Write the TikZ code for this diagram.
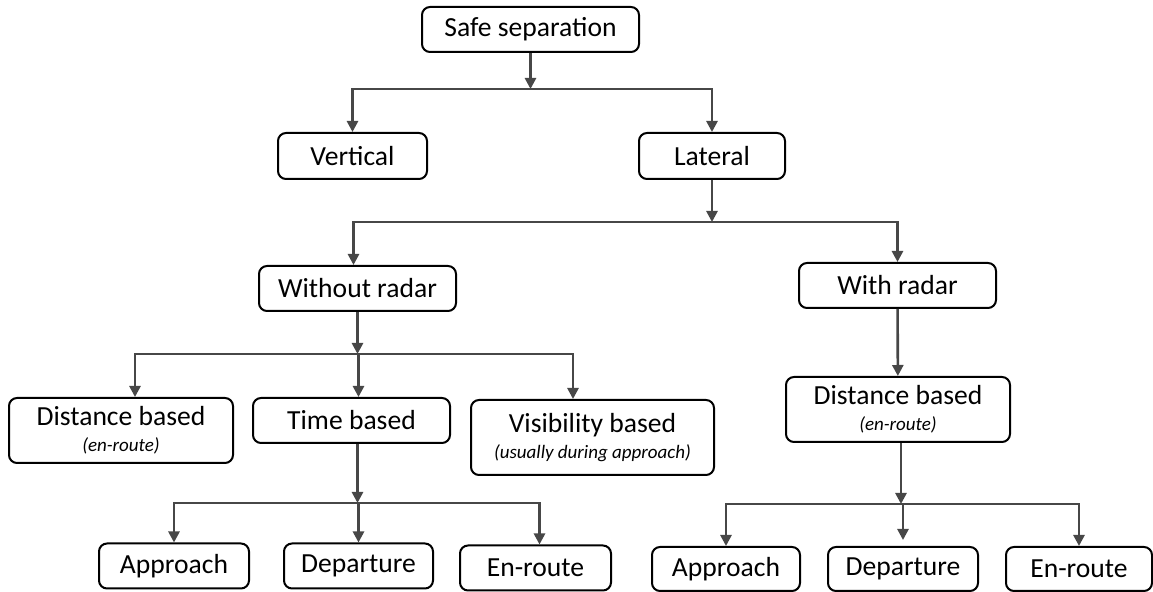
\documentclass[tikz,border=0pt]{standalone}
\usepackage{fontspec}
\setmainfont{Carlito}
\usetikzlibrary{positioning, arrows.meta}

\newcommand{\subnote}[1]{{\fontsize{9.5}{11}\selectfont\itshape #1}}

\begin{document}
\begin{tikzpicture}[
    x=0.5pt, y=-0.5pt,
    every node/.style={font=\fontsize{13.8}{13}\selectfont},
    s/.style={draw, line width=1pt, rounded corners=4pt, minimum height=22.5pt, inner sep=0pt, align=center},
    arrow/.style={-{Triangle[length=5.5pt, width=5.5pt]}, line width=1.3pt, draw=black!72}
  ]
  \useasboundingbox (0,0) rectangle (1153,592);

  % top levels
  \node[s, minimum width=108.5pt] (safe) at (530.5,29.5) {Safe separation};
  \node[s, minimum width=74.5pt, minimum height=23pt] (vert) at (352.5,156) {Vertical};
  \node[s, minimum width=73pt, minimum height=23pt] (lat) at (712,156) {Lateral};
  \node[s, minimum width=98.5pt] (wo) at (357.5,288.5) {Without radar};
  \node[s, minimum width=98.5pt] (wr) at (897.5,285.5) {With radar};

  % without radar branch
  \node[s, minimum width=112pt, minimum height=32.5pt] (db1) at (121,430.5) {Distance based\\\subnote{(en-route)}};
  \node[s, minimum width=98.5pt] (tb) at (351.5,420.5) {Time based};
  \node[s, minimum width=121.5pt, minimum height=37.5pt] (vb) at (592.5,437.5) {Visibility based\\\subnote{(usually during approach)}};
  \node[s, minimum width=75pt] (ap1) at (174,566) {Approach};
  \node[s, minimum width=74.5pt] (de1) at (358.5,566) {Departure};
  \node[s, minimum width=75.5pt] (en1) at (535.5,568) {En-route};

  % with radar branch
  \node[s, minimum width=112pt, minimum height=32.5pt] (db2) at (898,409.5) {Distance based\\\subnote{(en-route)}};
  \node[s, minimum width=74pt, minimum height=22pt] (ap2) at (726,569) {Approach};
  \node[s, minimum width=75pt, minimum height=22pt] (de2) at (903,569) {Departure};
  \node[s, minimum width=73pt, minimum height=22pt] (en2) at (1079,569) {En-route};

  % connectors
  \coordinate[below=18pt of safe.south] (j1);
  \draw[arrow] (safe.south) -- (j1);
  \draw[arrow] (j1) -| (vert.north);
  \draw[arrow] (j1) -| (lat.north);

  \coordinate[below=21pt of lat.south] (j2);
  \draw[arrow] (lat.south) -- (j2);
  \draw[arrow] (j2) -| ([xshift=-2pt]wo.north);
  \draw[arrow] (j2) -| (wr.north);

  \coordinate[below=21pt of wo.south] (j3);
  \draw[arrow] (wo.south) -- (j3);
  \draw[arrow] (j3) -| ([xshift=7pt]db1.north);
  \draw[arrow] (j3) -| ([xshift=3.5pt]tb.north);
  \draw[arrow] (j3) -| ([xshift=-9.75pt]vb.north);

  \coordinate[below=29.5pt of tb.south, xshift=3pt] (j4);
  \draw[arrow] (tb.south -| j4) -- (j4);
  \draw[arrow] (j4) -| (ap1.north);
  \draw[arrow] (j4) -| (de1.north);
  \draw[arrow] (j4) -| ([xshift=2pt]en1.north);

  \draw[arrow] (wr) -- (db2);

  \coordinate[below=30.5pt of db2.south, xshift=1.5pt] (j5);
  \draw[arrow] (db2.south -| j5) -- (j5);
  \draw[arrow] (j5) -| (ap2.north);
  \draw[arrow, shorten >=3pt] (j5) -| (de2.north);
  \draw[arrow] (j5) -| (en2.north);
\end{tikzpicture}
\end{document}
